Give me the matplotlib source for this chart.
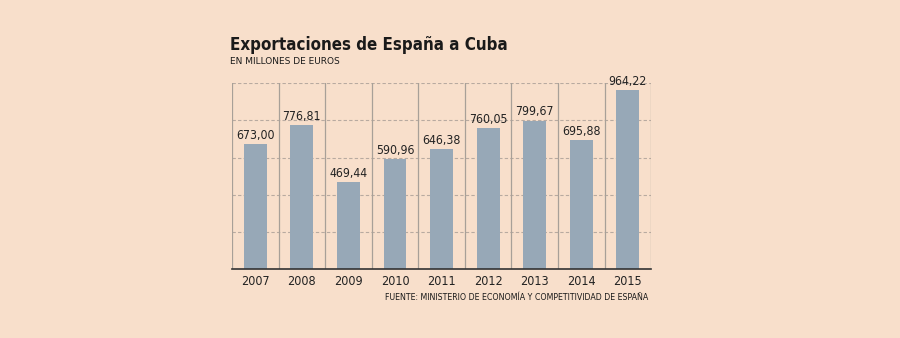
import matplotlib
matplotlib.use("Agg")
import matplotlib.pyplot as plt

years = ["2007", "2008", "2009", "2010", "2011", "2012", "2013", "2014", "2015"]
values = [673.00, 776.81, 469.44, 590.96, 646.38, 760.05, 799.67, 695.88, 964.22]
value_labels = ["673,00", "776,81", "469,44", "590,96", "646,38", "760,05", "799,67", "695,88", "964,22"]

bg = "#f8dfcb"
bar_color = "#97a8b7"

fig = plt.figure(figsize=(9, 3.38), dpi=100, facecolor=bg)
ax = fig.add_axes([0.2578, 0.2041, 0.4656, 0.5494])
ax.set_facecolor(bg)

x = list(range(len(years)))
ax.bar(x, values, width=0.49, color=bar_color, zorder=3)
ax.set_xlim(-0.5, len(years) - 0.5)
ax.set_ylim(0, 1000)

for gy in [200, 400, 600, 800, 1000]:
    ax.axhline(gy, color="#b8aaa0", lw=0.8, ls=(0, (3, 2)), zorder=1)
for vx in range(len(years)):
    ax.axvline(vx + 0.5, color="#a8a098", lw=0.9, zorder=2)
ax.axvline(-0.5, color="#a8a098", lw=0.9, zorder=2)

for i, (v, lab) in enumerate(zip(values, value_labels)):
    ax.text(i, v + 12, lab, ha="center", va="bottom", fontsize=8.8,
            fontstretch="condensed", color="#222222", zorder=4)

for s in ["top", "right", "left"]:
    ax.spines[s].set_visible(False)
ax.spines["bottom"].set_color("#333333")
ax.spines["bottom"].set_linewidth(1.2)
ax.spines["bottom"].set_zorder(5)
ax.set_yticks([])
ax.set_xticks(x)
ax.set_xticklabels(years, fontsize=9, fontstretch="condensed", color="#222222")
ax.tick_params(axis="x", length=0, pad=4)

fig.text(230 / 900, 1 - 45 / 338, "Exportaciones de España a Cuba", fontsize=12.2,
         fontweight="bold", fontstretch="condensed", color="#1a1a1a", va="center", ha="left")
fig.text(230 / 900, 1 - 61 / 338, "EN MILLONES DE EUROS", fontsize=6.5,
         color="#1a1a1a", va="center", ha="left")
fig.text(648 / 900, 1 - 297 / 338, "FUENTE: MINISTERIO DE ECONOMÍA Y COMPETITIVIDAD DE ESPAÑA",
         fontsize=6.3, fontstretch="condensed", color="#1a1a1a", va="center", ha="right")

fig.savefig("out.png", dpi=100, facecolor=bg)
